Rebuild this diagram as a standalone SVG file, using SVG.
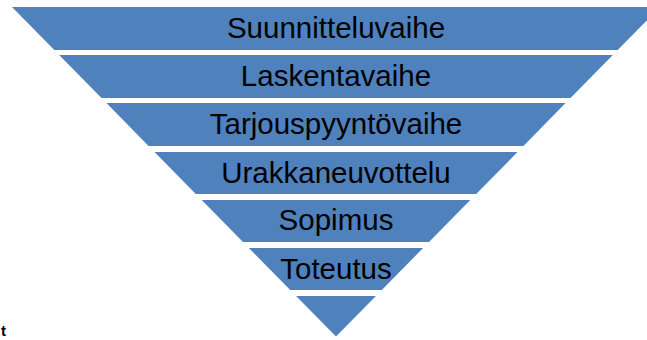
<svg xmlns="http://www.w3.org/2000/svg" width="647" height="340" viewBox="0 0 647 340">
<style>
.band{fill:#4F81BD;}
.lbl{font-family:"Liberation Sans",Arial,sans-serif;font-size:29.5px;fill:#000;text-anchor:middle;}
.edge{font-family:"Liberation Sans",Arial,sans-serif;font-size:15px;font-weight:bold;fill:#000;}
</style>
<rect width="647" height="340" fill="#fff"/>
<g id="band1"><polygon class="band" points="12,7 660,7 617.7,50 54.3,50"/><text class="lbl" x="336" y="38">Suunnitteluvaihe</text></g>
<g id="band2"><polygon class="band" points="59.2,55 612.8,55 570.5,98 101.5,98"/><text class="lbl" x="336" y="86">Laskentavaihe</text></g>
<g id="band3"><polygon class="band" points="106.4,103 565.6,103 523.4,146 148.6,146"/><text class="lbl" x="336" y="134">Tarjouspyyntövaihe</text></g>
<g id="band4"><polygon class="band" points="154.5,152 517.5,152 476.2,194 195.8,194"/><text class="lbl" x="336" y="182.5">Urakkaneuvottelu</text></g>
<g id="band5"><polygon class="band" points="201.7,200 470.3,200 429,242 243,242"/><text class="lbl" x="336" y="230">Sopimus</text></g>
<g id="band6"><polygon class="band" points="248.9,248 423.1,248 381.8,290 290.2,290"/><text class="lbl" x="336" y="279">Toteutus</text></g>
<g id="band7"><polygon class="band" points="296.1,296 375.9,296 336,336.6"/></g>
<g id="connectors"></g>
<text class="edge" x="1" y="336">t</text>
</svg>
